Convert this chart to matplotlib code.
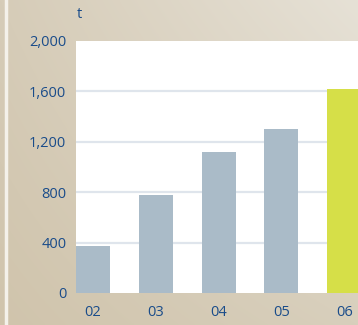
import numpy as np
import matplotlib
matplotlib.use("Agg")
import matplotlib.pyplot as plt

# Annual volumes (tonnes)
years = ["02", "03", "04", "05", "06"]
volumes = [370, 780, 1120, 1300, 1620]
bar_colors = ["#aabbc8", "#aabbc8", "#aabbc8", "#aabbc8", "#d6df48"]
y_ticks = [0, 400, 800, 1200, 1600, 2000]
y_tick_labels = ["0", "400", "800", "1,200", "1,600", "2,000"]
unit_label = "t"

W, H, DPI = 358, 325, 100
fig = plt.figure(figsize=(W / DPI, H / DPI), dpi=DPI)

# Soft beige backdrop
bg = fig.add_axes([0, 0, 1, 1])
bg.set_axis_off()
yy, xx = np.mgrid[0:1:200j, 0:1:220j]
tl = np.array([214, 204, 184]) / 255
tr = np.array([230, 225, 214]) / 255
bl = np.array([208, 196, 172]) / 255
br = np.array([216, 207, 188]) / 255
img = ((1 - yy)[..., None] * ((1 - xx)[..., None] * tl + xx[..., None] * tr)
       + yy[..., None] * ((1 - xx)[..., None] * bl + xx[..., None] * br))
bg.imshow(img, extent=[0, 1, 0, 1], aspect="auto", interpolation="bilinear")
bg.set_xlim(0, 1)
bg.set_ylim(0, 1)
bg.axvline(5.5 / W, color="#f4f1ea", lw=2.5)

left, right = 76 / W, 1.0
bottom, top = 1 - 293 / H, 1 - 41 / H
ax = fig.add_axes([left, bottom, right - left, top - bottom])
ax.set_facecolor("white")

x = np.arange(len(years))
ax.bar(x, volumes, width=0.54, color=bar_colors, zorder=3)
ax.set_xlim(-0.27, 4.22)
ax.set_ylim(0, 2000)

ax.set_yticks(y_ticks)
ax.set_yticklabels(y_tick_labels)
ax.set_xticks(x)
ax.set_xticklabels(years)
for gv in y_ticks[1:-1]:
    ax.axhline(gv, color="#dfe5ec", lw=1.6, zorder=1)

label_color = "#1a4c8a"
ax.tick_params(axis="both", length=0, labelsize=10.5, labelcolor=label_color)
ax.tick_params(axis="y", pad=7)
ax.tick_params(axis="x", pad=9)
for lab in ax.get_xticklabels() + ax.get_yticklabels():
    lab.set_fontfamily("Open Sans")
for s in ax.spines.values():
    s.set_visible(False)

fig.text(79 / W, 1 - 15 / H, unit_label, color=label_color, fontsize=10.5,
         family="Open Sans", ha="center", va="center")

fig.savefig("out.png", dpi=DPI)
